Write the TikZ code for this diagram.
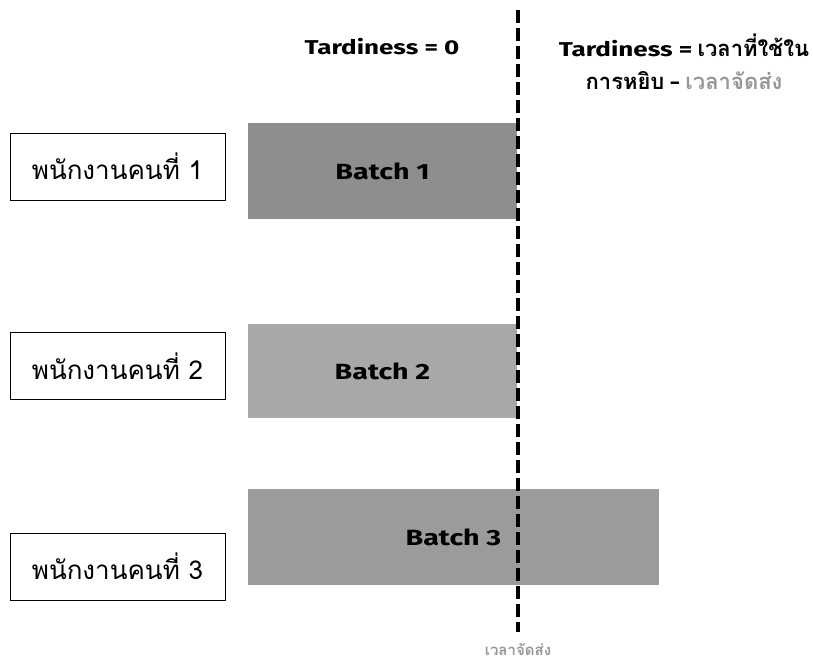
\documentclass[tikz,border=0pt]{standalone}
\usepackage{fontspec}
\setmainfont{Fira Sans}
\newfontfamily\thaifont[Script=Thai]{Loma}
\newfontfamily\widesans[FakeStretch=1.3]{Fira Sans}
\usetikzlibrary{positioning}
\definecolor{batchdark}{RGB}{142,142,142}
\definecolor{batchlight}{RGB}{168,168,168}
\definecolor{batchmid}{RGB}{155,155,155}
\definecolor{notegray}{RGB}{150,150,150}

\begin{document}
\begin{tikzpicture}[x=1pt, y=-1pt,
    worker/.style={draw, line width=1pt, minimum width=215pt, minimum height=67pt,
        font=\thaifont\fontsize{26}{30}\selectfont},
    batchbox/.style={inner sep=0pt, font=\widesans\bfseries\fontsize{22}{26}\selectfont},
    headtext/.style={font=\bfseries\fontsize{22}{33}\selectfont, align=center}]
    \useasboundingbox (0,0) rectangle (813,662);

    % workers
    \node[worker] (w1) at (117.5,166.5) {พนักงานคนที่ 1};
    \node[worker] (w2) at (117.5,366) {พนักงานคนที่ 2};
    \node[worker] (w3) at (117.5,566.5) {พนักงานคนที่ 3};

    % batches
    \node[batchbox, fill=batchdark, minimum width=269pt, minimum height=96pt] (b1) at (382.5,171) {Batch 1};
    \node[batchbox, fill=batchlight, minimum width=269pt, minimum height=94pt] (b2) at (382.5,371) {Batch 2};
    \node[batchbox, fill=batchmid, minimum width=411pt, minimum height=96pt] (b3) at (453.5,537) {Batch 3};

    % due date line
    \coordinate (due top) at (518,10);
    \coordinate (due bot) at (518,632);
    \draw[line width=3.5pt, dash pattern=on 13pt off 5pt] (due top) -- (due bot);
    \node[font=\thaifont\bfseries\fontsize{15}{18}\selectfont, text=notegray, inner sep=1pt] (due) at (518,649) {เวลาจัดส่ง};

    \node[headtext] (early) at (382,47) {\widesans\fontsize{20}{24}\selectfont Tardiness = 0};
    \node[headtext] (late) at (684,62)
        {{\widesans\fontsize{20}{24}\selectfont Tardiness =} {\thaifont เวลาที่ใช้ใน}\\
         {\thaifont การหยิบ} {\widesans\fontsize{20}{24}\selectfont -} {\thaifont\color{notegray}เวลาจัดส่ง}};
\end{tikzpicture}
\end{document}
